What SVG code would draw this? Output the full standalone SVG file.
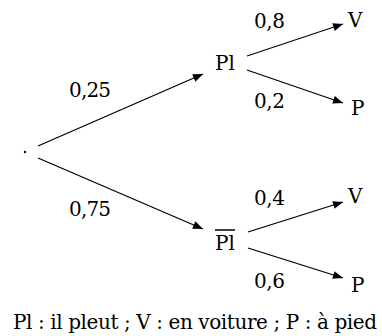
<svg xmlns="http://www.w3.org/2000/svg" width="382" height="336" viewBox="0 0 382 336">
<defs>
<style>
text{font-family:"DejaVu Serif","Liberation Serif",serif;font-size:20px;fill:#000}
.e{stroke:#000;stroke-width:1.3;fill:none;marker-end:url(#a)}
</style>
<marker id="a" viewBox="0 0 10 8" refX="10" refY="4" markerWidth="11" markerHeight="8" markerUnits="userSpaceOnUse" orient="auto"><path d="M0,0L10,4L0,8z" fill="#000"/></marker>
</defs>
<rect width="382" height="336" fill="#fff"/>
<g id="connectors">
<line class="e" x1="38" y1="146" x2="203" y2="74"/>
<line class="e" x1="38" y1="158" x2="203" y2="229"/>
<line class="e" x1="247" y1="56" x2="343" y2="24"/>
<line class="e" x1="247" y1="70" x2="343" y2="103"/>
<line class="e" x1="248" y1="232" x2="343" y2="202"/>
<line class="e" x1="248" y1="248" x2="343" y2="278"/>
<text x="69" y="97" textLength="42">0,25</text>
<text x="69" y="216" textLength="42">0,75</text>
<text x="254" y="28" textLength="31">0,8</text>
<text x="254" y="108" textLength="31">0,2</text>
<text x="254" y="205" textLength="31">0,4</text>
<text x="254" y="288" textLength="31">0,6</text>
</g>
<g id="root"><circle cx="25" cy="152" r="1.2" fill="#000"/></g>
<g id="pl"><text x="215" y="70">Pl</text></g>
<g id="notpl"><text x="215" y="250">Pl</text><line x1="215" y1="230" x2="235" y2="230" stroke="#000" stroke-width="1.5"/></g>
<g id="v1"><text x="348" y="27">V</text></g>
<g id="p1"><text x="351" y="115">P</text></g>
<g id="v2"><text x="348" y="203">V</text></g>
<g id="p2"><text x="351" y="292">P</text></g>
<text x="13" y="329" textLength="364">Pl : il pleut ; V : en voiture ; P : à pied</text>
</svg>
